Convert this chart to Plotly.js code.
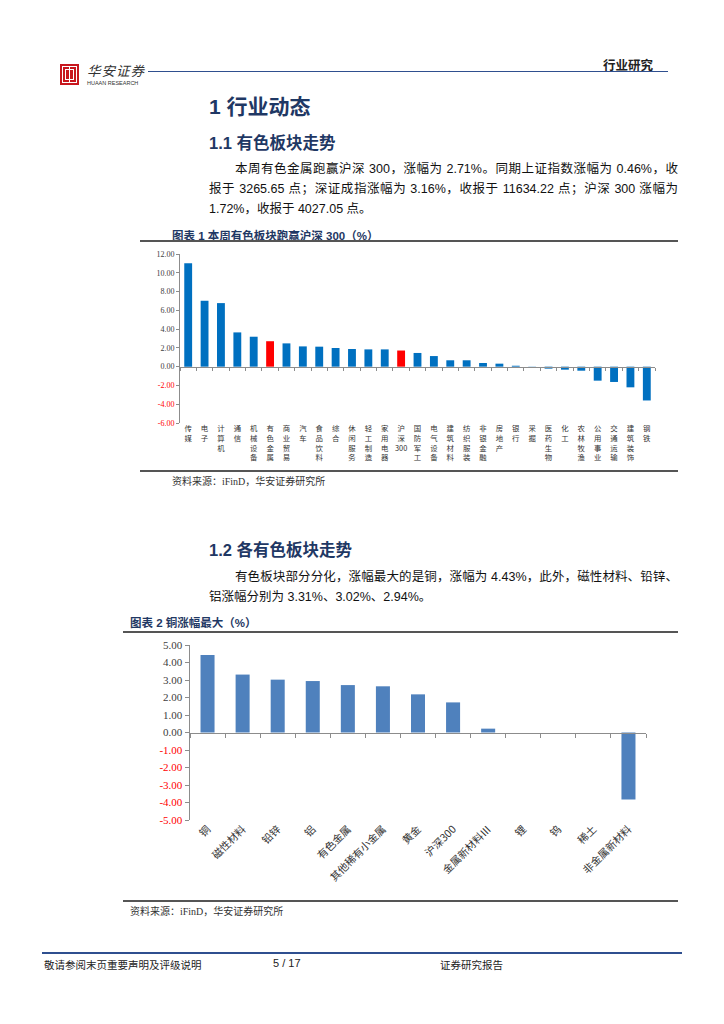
<!DOCTYPE html>
<html>
<head>
<meta charset="utf-8">
<script src="https://cdn.plot.ly/plotly-3.0.1.min.js"></script>
<style>
  html, body { margin:0; padding:0; background:#fff; }
  #page { position:relative; width:724px; height:1024px; overflow:hidden; background:#fff;
          font-family:"Liberation Sans","Noto Sans CJK SC",sans-serif; }
  .abs { position:absolute; white-space:nowrap; }
  .h1 { font-size:21px; font-weight:bold; color:#1F3864; }
  .h2 { font-size:16.5px; font-weight:bold; color:#1F3864; }
  .p { font-size:12.5px; color:#111; }
  .just { text-align:justify; text-align-last:justify; white-space:normal; }
  .figt { font-size:11.5px; font-weight:bold; color:#1F3864; }
  .src { font-size:10px; color:#333; font-family:"Liberation Serif","Noto Sans CJK SC",serif; }
  .rule { position:absolute; height:0; border-top:2px solid #555; }
</style>
</head>
<body>
<div id="page">
  <!-- header -->
  <div class="abs" style="left:60px;top:64px;width:19px;height:21px;background:#C8161D;"></div>
  <div class="abs" style="left:62px;top:66px;width:13px;height:15px;border:1px solid #fff;"></div>
  <div class="abs" style="left:65px;top:69px;width:7px;height:9px;border:1px solid #fff;"></div>
  <div class="abs" style="left:68.5px;top:66px;width:1px;height:17px;background:#fff;"></div>
  <div class="abs" style="left:87px;top:60px;font-size:13.5px;font-style:italic;color:#333;font-family:'Noto Sans CJK SC';letter-spacing:1px;">华安证券</div>
  <div class="abs" style="left:87px;top:80px;font-size:5.5px;color:#333;">HUAAN RESEARCH</div>
  <div class="abs" style="left:148px;top:71px;width:520px;height:0;border-top:1.5px solid #2F4F8F;"></div>
  <div class="abs" style="left:603px;top:55px;font-size:12.5px;font-weight:bold;color:#222;">行业研究</div>

  <!-- section 1 -->
  <div class="abs h1" style="left:209px;top:90px;">1 行业动态</div>
  <div class="abs h2" style="left:209px;top:130px;">1.1 有色板块走势</div>
  <div class="abs p just" style="left:235px;top:158px;width:443px;">本周有色金属跑赢沪深 300，涨幅为 2.71%。同期上证指数涨幅为 0.46%，收</div>
  <div class="abs p just" style="left:209px;top:178px;width:469px;">报于 3265.65 点；深证成指涨幅为 3.16%，收报于 11634.22 点；沪深 300 涨幅为</div>
  <div class="abs p" style="left:209px;top:198px;">1.72%，收报于 4027.05 点。</div>

  <div class="abs figt" style="left:172px;top:227px;">图表 1 本周有色板块跑赢沪深 300（%）</div>
  <div class="rule" style="left:140px;top:240px;width:538px;"></div>
  <div id="chart1" class="abs" style="left:140px;top:244px;width:538px;height:226px;"></div>
  <div class="rule" style="left:140px;top:470px;width:538px;"></div>
  <div class="abs src" style="left:172px;top:473px;">资料来源：iFinD，华安证券研究所</div>

  <!-- section 2 -->
  <div class="abs h2" style="left:209px;top:537px;">1.2 各有色板块走势</div>
  <div class="abs p just" style="left:235px;top:566px;width:443px;">有色板块部分分化，涨幅最大的是铜，涨幅为 4.43%，此外，磁性材料、铅锌、</div>
  <div class="abs p" style="left:209px;top:586px;">铝涨幅分别为 3.31%、3.02%、2.94%。</div>

  <div class="abs figt" style="left:130px;top:614px;">图表 2 铜涨幅最大（%）</div>
  <div class="rule" style="left:123px;top:631px;width:555px;"></div>
  <div id="chart2" class="abs" style="left:123px;top:638px;width:555px;height:262px;"></div>
  <div class="rule" style="left:123px;top:900px;width:555px;"></div>
  <div class="abs src" style="left:130px;top:903px;">资料来源：iFinD，华安证券研究所</div>

  <!-- footer -->
  <div class="abs" style="left:42px;top:952px;width:640px;height:0;border-top:2px solid #2F4F8F;"></div>
  <div class="abs" style="left:44px;top:957px;font-size:10.5px;color:#222;font-family:'Noto Sans CJK SC';">敬请参阅末页重要声明及评级说明</div>
  <div class="abs" style="left:273px;top:957px;font-size:11px;color:#222;">5 / 17</div>
  <div class="abs" style="left:440px;top:957px;font-size:10.5px;color:#222;font-family:'Noto Sans CJK SC';">证券研究报告</div>
</div>

<script>
// ---------- Chart 1 data ----------
const industries = ["传媒","电子","计算机","通信","机械设备","有色金属","商业贸易","汽车","食品饮料","综合",
  "休闲服务","轻工制造","家用电器","沪深300","国防军工","电气设备","建筑材料","纺织服装","非银金融","房地产",
  "银行","采掘","医药生物","化工","农林牧渔","公用事业","交通运输","建筑装饰","钢铁"];
const industryChange = [11.02,7.02,6.77,3.65,3.19,2.71,2.48,2.16,2.13,1.99,
  1.88,1.84,1.84,1.72,1.46,1.13,0.68,0.68,0.39,0.32,
  0.10,0.02,-0.21,-0.32,-0.43,-1.49,-1.63,-2.20,-3.60];
const highlight1 = ["有色金属","沪深300"];
const y1TickVals = [12,10,8,6,4,2,0,-2,-4,-6];
const y1TickText = ["12.00","10.00","8.00","6.00","4.00","2.00","0.00","-2.00","-4.00","-6.00"];

// ---------- Chart 2 data ----------
const metals = ["铜","磁性材料","铅锌","铝","有色金属","其他稀有小金属","黄金","沪深300","金属新材料Ⅲ","锂","钨","稀土","非金属新材料"];
const metalChange = [4.43,3.31,3.02,2.94,2.71,2.64,2.18,1.72,0.22,0,0,0,-3.83];
const y2TickVals = [5,4,3,2,1,0,-1,-2,-3,-4,-5];
const y2TickText = ["5.00","4.00","3.00","2.00","1.00","0.00","-1.00","-2.00","-3.00","-4.00","-5.00"];

function colorTicks(vals, texts, neg){
  return texts.map((t,i)=> vals[i] < 0 ? '<span style="color:'+neg+'">'+t+'</span>' : t);
}
function vertical(label){
  const parts = label.match(/[0-9]+|./g);
  return parts.join('<br>');
}

const cfg = {displayModeBar:false, staticPlot:true};

// ---------- Chart 1 ----------
(function(){
  const colors = industries.map(c => highlight1.includes(c) ? '#FF0000' : '#0070C0');
  const traces = [
    {type:'bar', x:industries, y:industryChange, marker:{color:colors}, width:0.48,
     xaxis:'x', yaxis:'y', hoverinfo:'skip', showlegend:false},
    {type:'scatter', mode:'markers', x:industries, y:industryChange, marker:{opacity:0},
     xaxis:'x2', yaxis:'y', hoverinfo:'skip', showlegend:false}
  ];
  const layout = {
    width:538, height:226, margin:{l:40, r:23, t:10, b:47},
    paper_bgcolor:'#fff', plot_bgcolor:'#fff',
    font:{family:'Liberation Serif, Noto Sans CJK SC', size:8, color:'#404040'},
    xaxis:{type:'category', anchor:'free', position:6/18, showline:true, linecolor:'#8C8C8C', linewidth:1,
           ticks:'outside', tickson:'boundaries', ticklen:3, tickcolor:'#8C8C8C',
           showticklabels:false, showgrid:false, zeroline:false, range:[-0.5, industries.length-0.5]},
    xaxis2:{type:'category', overlaying:'x', anchor:'y', side:'bottom', matches:'x', showline:false, ticks:'',
            showgrid:false, zeroline:false, tickangle:0,
            tickmode:'array', tickvals:industries, ticktext:industries.map(vertical),
            tickfont:{family:'Noto Sans CJK SC', size:7.4, color:'#333'}},
    yaxis:{range:[-6,12], tickmode:'array', tickvals:y1TickVals,
           ticktext:colorTicks(y1TickVals, y1TickText, '#FF0000'),
           showline:true, linecolor:'#8C8C8C', linewidth:1, ticks:'outside', ticklen:3, tickcolor:'#8C8C8C',
           showgrid:false, zeroline:false,
           tickfont:{family:'Liberation Serif', size:8, color:'#404040'}},
    bargap:0.5
  };
  Plotly.newPlot('chart1', traces, layout, cfg);
})();

// ---------- Chart 2 ----------
(function(){
  const traces = [
    {type:'bar', x:metals, y:metalChange, marker:{color:'#4F81BD'}, width:0.4,
     xaxis:'x', yaxis:'y', hoverinfo:'skip', showlegend:false},
    {type:'scatter', mode:'markers', x:metals, y:metalChange, marker:{opacity:0},
     xaxis:'x2', yaxis:'y', hoverinfo:'skip', showlegend:false}
  ];
  const layout = {
    width:555, height:262, margin:{l:67, r:32, t:7, b:80},
    paper_bgcolor:'#fff', plot_bgcolor:'#fff',
    font:{family:'Liberation Serif, Noto Sans CJK SC', size:11, color:'#404040'},
    xaxis:{type:'category', anchor:'free', position:0.5, showline:true, linecolor:'#8C8C8C', linewidth:1.5,
           ticks:'outside', tickson:'boundaries', ticklen:4, tickcolor:'#8C8C8C',
           showticklabels:false, showgrid:false, zeroline:false, range:[-0.5, metals.length-0.5]},
    xaxis2:{type:'category', overlaying:'x', anchor:'y', side:'bottom', matches:'x', showline:false, ticks:'',
            showgrid:false, zeroline:false, tickangle:-45,
            tickfont:{family:'Noto Sans CJK SC', size:10.5, color:'#333'}},
    yaxis:{range:[-5,5], tickmode:'array', tickvals:y2TickVals,
           ticktext:colorTicks(y2TickVals, y2TickText, '#FF0000'),
           showline:true, linecolor:'#8C8C8C', linewidth:1.5, ticks:'outside', ticklen:4, tickcolor:'#8C8C8C',
           showgrid:false, zeroline:false,
           tickfont:{family:'Liberation Serif', size:11, color:'#404040'}}
  };
  Plotly.newPlot('chart2', traces, layout, cfg);
})();
</script>
</body>
</html>
